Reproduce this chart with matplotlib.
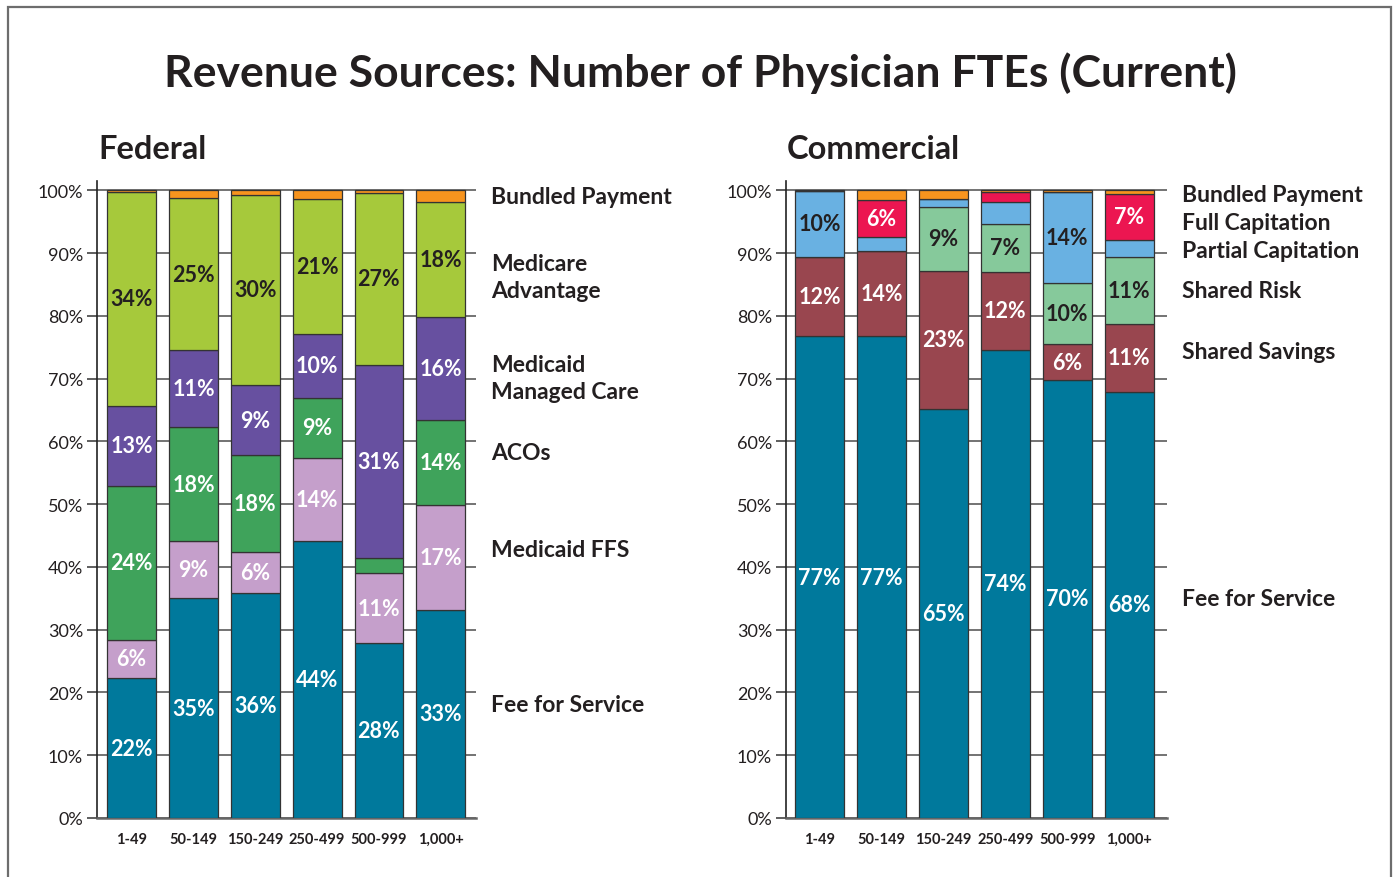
import matplotlib
matplotlib.use("Agg")
import matplotlib.pyplot as plt
import numpy as np
from matplotlib.patches import Rectangle

# size groups (physician FTEs)
cats = ['1-49', '50-149', '150-249', '250-499', '500-999', '1,000+']

# Federal - segment heights (%), bottom to top
fed_ffs = [22.3, 35.0, 35.8, 44.2, 27.9, 33.2]
fed_mffs = [6.1, 9.1, 6.6, 13.2, 11.1, 16.7]
fed_aco = [24.5, 18.2, 15.4, 9.6, 2.4, 13.5]
fed_mmc = [12.8, 12.2, 11.2, 10.1, 30.8, 16.5]
fed_ma = [34.1, 24.3, 30.3, 21.5, 27.4, 18.3]
fed_bp = [0.2, 1.2, 0.7, 1.4, 0.4, 1.8]

# Federal - printed labels
fed_ffs_lbl = ['22%', '35%', '36%', '44%', '28%', '33%']
fed_mffs_lbl = ['6%', '9%', '6%', '14%', '11%', '17%']
fed_aco_lbl = ['24%', '18%', '18%', '9%', None, '14%']
fed_mmc_lbl = ['13%', '11%', '9%', '10%', '31%', '16%']
fed_ma_lbl = ['34%', '25%', '30%', '21%', '27%', '18%']
fed_bp_lbl = [None] * 6

# Commercial - segment heights (%), bottom to top
com_ffs = [76.8, 76.8, 65.2, 74.6, 69.8, 67.9]
com_ss = [12.6, 13.5, 22.0, 12.4, 5.7, 10.8]
com_sr = [0.0, 0.0, 10.2, 7.7, 9.7, 10.7]
com_pc = [10.5, 2.2, 1.3, 3.5, 14.5, 2.7]
com_fc = [0.0, 6.0, 0.0, 1.6, 0.0, 7.4]
com_bp = [0.1, 1.5, 1.3, 0.2, 0.3, 0.5]

# Commercial - printed labels
com_ffs_lbl = ['77%', '77%', '65%', '74%', '70%', '68%']
com_ss_lbl = ['12%', '14%', '23%', '12%', '6%', '11%']
com_sr_lbl = [None, None, '9%', '7%', '10%', '11%']
com_pc_lbl = ['10%', None, None, None, '14%', None]
com_fc_lbl = [None, '6%', None, None, None, '7%']
com_bp_lbl = [None] * 6

fed_names = ['Fee for Service', 'Medicaid FFS', 'ACOs', 'Medicaid\nManaged Care',
             'Medicare\nAdvantage', 'Bundled Payment']
com_names = ['Fee for Service', 'Shared Savings', 'Shared Risk', 'Partial Capitation',
             'Full Capitation', 'Bundled Payment']

# colours
TEAL = '#00799c'
LPURP = '#c59fcb'
GREEN = '#3fa35b'
PURP = '#6750a0'
LIME = '#a6c93b'
ORANGE = '#f7941e'
MAROON = '#99464f'
LGREEN = '#86c99b'
LBLUE = '#69b1e2'
RED = '#ec1651'
DARK = '#231f20'

FONT = ['Lato', 'DejaVu Sans']
plt.rcParams['font.family'] = FONT

W, H = 1400, 878
fig = plt.figure(figsize=(W / 100, H / 100), dpi=100)


def fx(px):
    return px / W


def fy(py):
    return 1 - py / H


def draw_panel(ax, series, labels, colors, txtcolors):
    x = np.arange(len(cats))
    bottom = np.zeros(len(cats))
    for vals, lbls, col, tc in zip(series, labels, colors, txtcolors):
        vals = np.array(vals)
        ax.bar(x, vals, bottom=bottom, width=0.79, color=col,
               edgecolor='#333333', linewidth=0.9, zorder=3)
        for i, l in enumerate(lbls):
            if l:
                ax.text(x[i], bottom[i] + vals[i] / 2, l, ha='center', va='center',
                        color=tc, fontsize=15.5, fontweight='bold', zorder=4)
        bottom += vals
    ax.set_ylim(0, 101.5)
    ax.set_yticks(np.arange(0, 101, 10))
    ax.set_yticklabels([f'{v}%' for v in range(0, 101, 10)], fontsize=13, color=DARK)
    ax.set_xticks(x)
    ax.set_xticklabels(cats, fontsize=10.5, fontweight='bold', color=DARK)
    ax.tick_params(axis='x', length=0, pad=10)
    ax.tick_params(axis='y', direction='out', length=7, width=1.1, color='#333333', pad=3)
    ax.grid(axis='y', color='#4d4d4d', linewidth=1.1, zorder=0)
    ax.set_axisbelow(True)
    for s in ['top', 'right']:
        ax.spines[s].set_visible(False)
    ax.spines['left'].set_color('#222222')
    ax.spines['left'].set_linewidth(1.2)
    ax.spines['bottom'].set_color('#666666')
    ax.spines['bottom'].set_linewidth(1.8)


ax1 = fig.add_axes([fx(97), 59 / H, fx(476 - 97), (819 - 182) / H])
ax1.set_xlim(-0.56, 5.57)
draw_panel(ax1,
           [fed_ffs, fed_mffs, fed_aco, fed_mmc, fed_ma, fed_bp],
           [fed_ffs_lbl, fed_mffs_lbl, fed_aco_lbl, fed_mmc_lbl, fed_ma_lbl, fed_bp_lbl],
           [TEAL, LPURP, GREEN, PURP, LIME, ORANGE],
           ['white', 'white', 'white', 'white', DARK, DARK])

ax2 = fig.add_axes([fx(786), 59 / H, fx(1167 - 786), (819 - 182) / H])
ax2.set_xlim(-0.54, 5.61)
draw_panel(ax2,
           [com_ffs, com_ss, com_sr, com_pc, com_fc, com_bp],
           [com_ffs_lbl, com_ss_lbl, com_sr_lbl, com_pc_lbl, com_fc_lbl, com_bp_lbl],
           [TEAL, MAROON, LGREEN, LBLUE, RED, ORANGE],
           ['white', 'white', DARK, DARK, 'white', DARK])

# series names beside each panel
fed_name_y = [705, 551, 454, 379, 278, 198]
com_name_y = [600, 353, 292, 251, 223, 196]
for name, py in zip(fed_names, fed_name_y):
    fig.text(fx(491), fy(py), name, ha='left', va='center', fontsize=16.5,
             fontweight='bold', color=DARK, linespacing=1.32)
for name, py in zip(com_names, com_name_y):
    fig.text(fx(1182), fy(py), name, ha='left', va='center', fontsize=16.5,
             fontweight='bold', color=DARK, linespacing=1.32)

# titles
fig.text(0.5, fy(73), 'Revenue Sources: Number of Physician FTEs (Current)',
         ha='center', va='center', fontsize=32, fontweight='bold', color=DARK)
fig.text(fx(98), fy(150), 'Federal', ha='left', va='center', fontsize=23.5,
         fontweight='bold', color=DARK)
fig.text(fx(787), fy(150), 'Commercial', ha='left', va='center', fontsize=23.5,
         fontweight='bold', color=DARK)

# outer frame
fig.patches.append(Rectangle((fx(8), -0.05), fx(1391 - 8), fy(8) + 0.05,
                             transform=fig.transFigure, fill=False,
                             edgecolor='#6d6d6d', linewidth=1.6))

fig.savefig('out.png', dpi=100)
